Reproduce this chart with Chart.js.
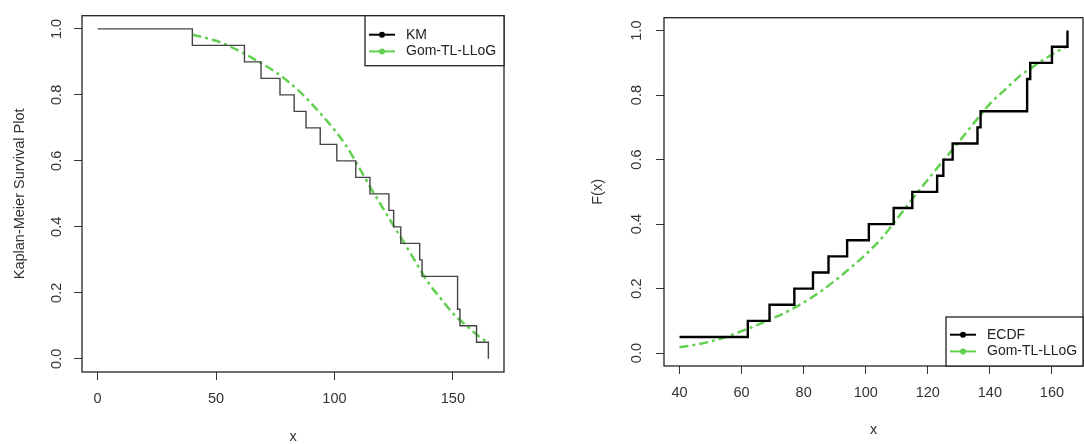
<!DOCTYPE html>
<html>
<head>
<meta charset="utf-8">
<script src="https://cdn.jsdelivr.net/npm/chart.js@4.4.1/dist/chart.umd.min.js"></script>
<style>
  html, body { margin: 0; padding: 0; background: #fff; }
  #wrap { position: relative; width: 1084px; height: 444px; overflow: hidden; }
  #left { position: absolute; left: 0; top: 0; }
  #right { position: absolute; left: 540px; top: 0; }
</style>
</head>
<body>
<div id="wrap">
  <canvas id="left" width="540" height="444"></canvas>
  <canvas id="right" width="544" height="444"></canvas>
</div>
<script>
// Kaplan-Meier estimate (left panel)
var kmTimes = [0, 40, 62, 69, 77, 83, 88, 94, 101, 109, 115, 123, 125, 128, 136, 137, 152, 153, 160, 165];
var kmSurv = [1, 0.95, 0.90, 0.85, 0.80, 0.75, 0.70, 0.65, 0.60, 0.55, 0.50, 0.45, 0.40, 0.35, 0.30, 0.25, 0.15, 0.10, 0.05, 0.0];

// empirical CDF (right panel)
var ecdfTimes = [40, 62, 69, 77, 83, 88, 94, 101, 109, 115, 123, 125, 128, 136, 137, 152, 153, 160, 165];
var ecdfProb = [0.05, 0.10, 0.15, 0.20, 0.25, 0.30, 0.35, 0.40, 0.45, 0.50, 0.55, 0.60, 0.65, 0.70, 0.75, 0.85, 0.90, 0.95, 1.0];

// fitted Gom-TL-LLoG curve
var fitX = [40, 45, 50, 55, 60, 65, 70, 75, 80, 85, 90, 95, 100, 105, 110, 115, 120, 125, 130, 135, 140, 145, 150, 155, 160, 165];
var fitSurv = [0.982, 0.974, 0.964, 0.950, 0.932, 0.913, 0.892, 0.870, 0.843, 0.812, 0.776, 0.736, 0.694, 0.645, 0.585, 0.522, 0.462, 0.403, 0.345, 0.285, 0.227, 0.182, 0.138, 0.105, 0.074, 0.048];
var fitCdf = [0.018, 0.026, 0.036, 0.050, 0.068, 0.087, 0.108, 0.130, 0.157, 0.188, 0.224, 0.264, 0.306, 0.355, 0.415, 0.478, 0.538, 0.597, 0.655, 0.715, 0.773, 0.818, 0.862, 0.895, 0.926, 0.952];

var leftXTicks = [0, 50, 100, 150];
var rightXTicks = [40, 60, 80, 100, 120, 140, 160];
var yTicks = [0, 0.2, 0.4, 0.6, 0.8, 1.0];

var green = "#61D04F";
var FONT = "'Liberation Sans', Arial, sans-serif";
Chart.defaults.font.family = FONT;
Chart.defaults.color = "#333";

function pairs(xs, ys) {
    return xs.map(function (x, i) { return { x: x, y: ys[i] }; });
}

function fixedTicks(values) {
    return function (scale) {
        scale.ticks = values.map(function (v) { return { value: v }; });
    };
}

var plotBox = {
    id: "plotBox",
    afterDatasetsDraw: function (chart) {
        var a = chart.chartArea, c = chart.ctx;
        c.save();
        c.strokeStyle = "#222";
        c.lineWidth = 1.3;
        c.strokeRect(a.left, a.top, a.right - a.left, a.bottom - a.top);
        c.restore();
    }
};

// R style legend box in a corner of the plot
var boxLegend = {
    id: "boxLegend",
    afterDraw: function (chart, args, o) {
        var a = chart.chartArea, c = chart.ctx;
        var x = a.right - o.width;
        var y = o.corner === "bottomright" ? a.bottom - o.height : a.top;
        c.save();
        c.fillStyle = "#fff";
        c.fillRect(x, y, o.width, o.height);
        c.strokeStyle = "#222";
        c.lineWidth = 1.3;
        c.strokeRect(x, y, o.width, o.height);
        c.font = "14px " + FONT;
        c.textBaseline = "middle";
        chart.data.datasets.forEach(function (ds, i) {
            var ly = y + o.firstRow + i * o.rowGap;
            var col = ds.legendColor || ds.borderColor;
            c.strokeStyle = col;
            c.lineWidth = 2;
            c.beginPath();
            c.moveTo(x + 4, ly);
            c.lineTo(x + 30, ly);
            c.stroke();
            c.fillStyle = col;
            c.beginPath();
            c.arc(x + 17, ly, 3, 0, Math.PI * 2);
            c.fill();
            c.fillStyle = "#222";
            c.fillText(ds.label, x + 41, ly);
        });
        c.restore();
    }
};

function axes(o) {
    return {
        x: {
            type: "linear",
            min: o.xmin,
            max: o.xmax,
            afterBuildTicks: fixedTicks(o.xticks),
            afterFit: function (s) { s.height = o.bottomH; },
            grid: { drawOnChartArea: false, drawTicks: true, tickLength: 8, color: "#333" },
            border: { display: false },
            ticks: { padding: 10, maxRotation: 0, font: { size: 14.5 }, color: "#333" },
            title: { display: true, text: "x", font: { size: 14.5, lineHeight: 1 }, padding: { top: 0, bottom: o.xTitlePad }, color: "#333" }
        },
        y: {
            type: "linear",
            min: -0.04,
            max: 1.04,
            afterBuildTicks: fixedTicks(yTicks),
            afterFit: function (s) { s.width = o.leftW; },
            grid: { drawOnChartArea: false, drawTicks: true, tickLength: 8, color: "#333" },
            border: { display: false },
            ticks: {
                padding: o.yTickPad,
                minRotation: 90,
                maxRotation: 90,
                crossAlign: "center",
                font: { size: 14.5 },
                color: "#333",
                callback: function (v) { return v.toFixed(1); }
            },
            title: { display: true, text: o.ytitle, font: { size: 14.5, lineHeight: 1.2 }, padding: { top: o.yTitlePad, bottom: 0 }, color: "#333" }
        }
    };
}

new Chart(document.getElementById("left").getContext("2d"), {
    type: "line",
    data: {
        datasets: [{
            label: "KM",
            data: pairs(kmTimes, kmSurv),
            stepped: "before",
            borderColor: "#444",
            legendColor: "#000",
            borderWidth: 1.4,
            pointRadius: 0
        }, {
            label: "Gom-TL-LLoG",
            data: pairs(fitX, fitSurv),
            borderColor: green,
            borderWidth: 2.5,
            borderDash: [9, 4, 3, 4],
            cubicInterpolationMode: "monotone",
            pointRadius: 0
        }]
    },
    options: {
        responsive: false,
        animation: false,
        layout: { padding: { top: 11, right: 36, left: 0, bottom: 0 } },
        plugins: {
            legend: { display: false },
            tooltip: { enabled: false },
            boxLegend: { corner: "topright", width: 139, height: 50, firstRow: 19, rowGap: 16.7 }
        },
        scales: axes({
            xmin: -6.6, xmax: 171.6, xticks: leftXTicks, bottomH: 72, xTitlePad: 0,
            leftW: 82, yTickPad: 7, ytitle: "Kaplan-Meier Survival Plot", yTitlePad: 11
        })
    },
    plugins: [plotBox, boxLegend]
});

new Chart(document.getElementById("right").getContext("2d"), {
    type: "line",
    data: {
        datasets: [{
            label: "ECDF",
            data: pairs(ecdfTimes, ecdfProb),
            stepped: "before",
            borderColor: "#000",
            borderWidth: 2.4,
            pointRadius: 0
        }, {
            label: "Gom-TL-LLoG",
            data: pairs(fitX, fitCdf),
            borderColor: green,
            borderWidth: 2.5,
            borderDash: [9, 4, 3, 4],
            cubicInterpolationMode: "monotone",
            pointRadius: 0
        }]
    },
    options: {
        responsive: false,
        animation: false,
        layout: { padding: { top: 11, right: 1, left: 0, bottom: 0 } },
        plugins: {
            legend: { display: false },
            tooltip: { enabled: false },
            boxLegend: { corner: "bottomright", width: 137, height: 49, firstRow: 17.7, rowGap: 16.7 }
        },
        scales: axes({
            xmin: 35, xmax: 170, xticks: rightXTicks, bottomH: 78, xTitlePad: 7,
            leftW: 124, yTickPad: 9, ytitle: "F(x)", yTitlePad: 49
        })
    },
    plugins: [plotBox, boxLegend]
});
</script>
</body>
</html>
